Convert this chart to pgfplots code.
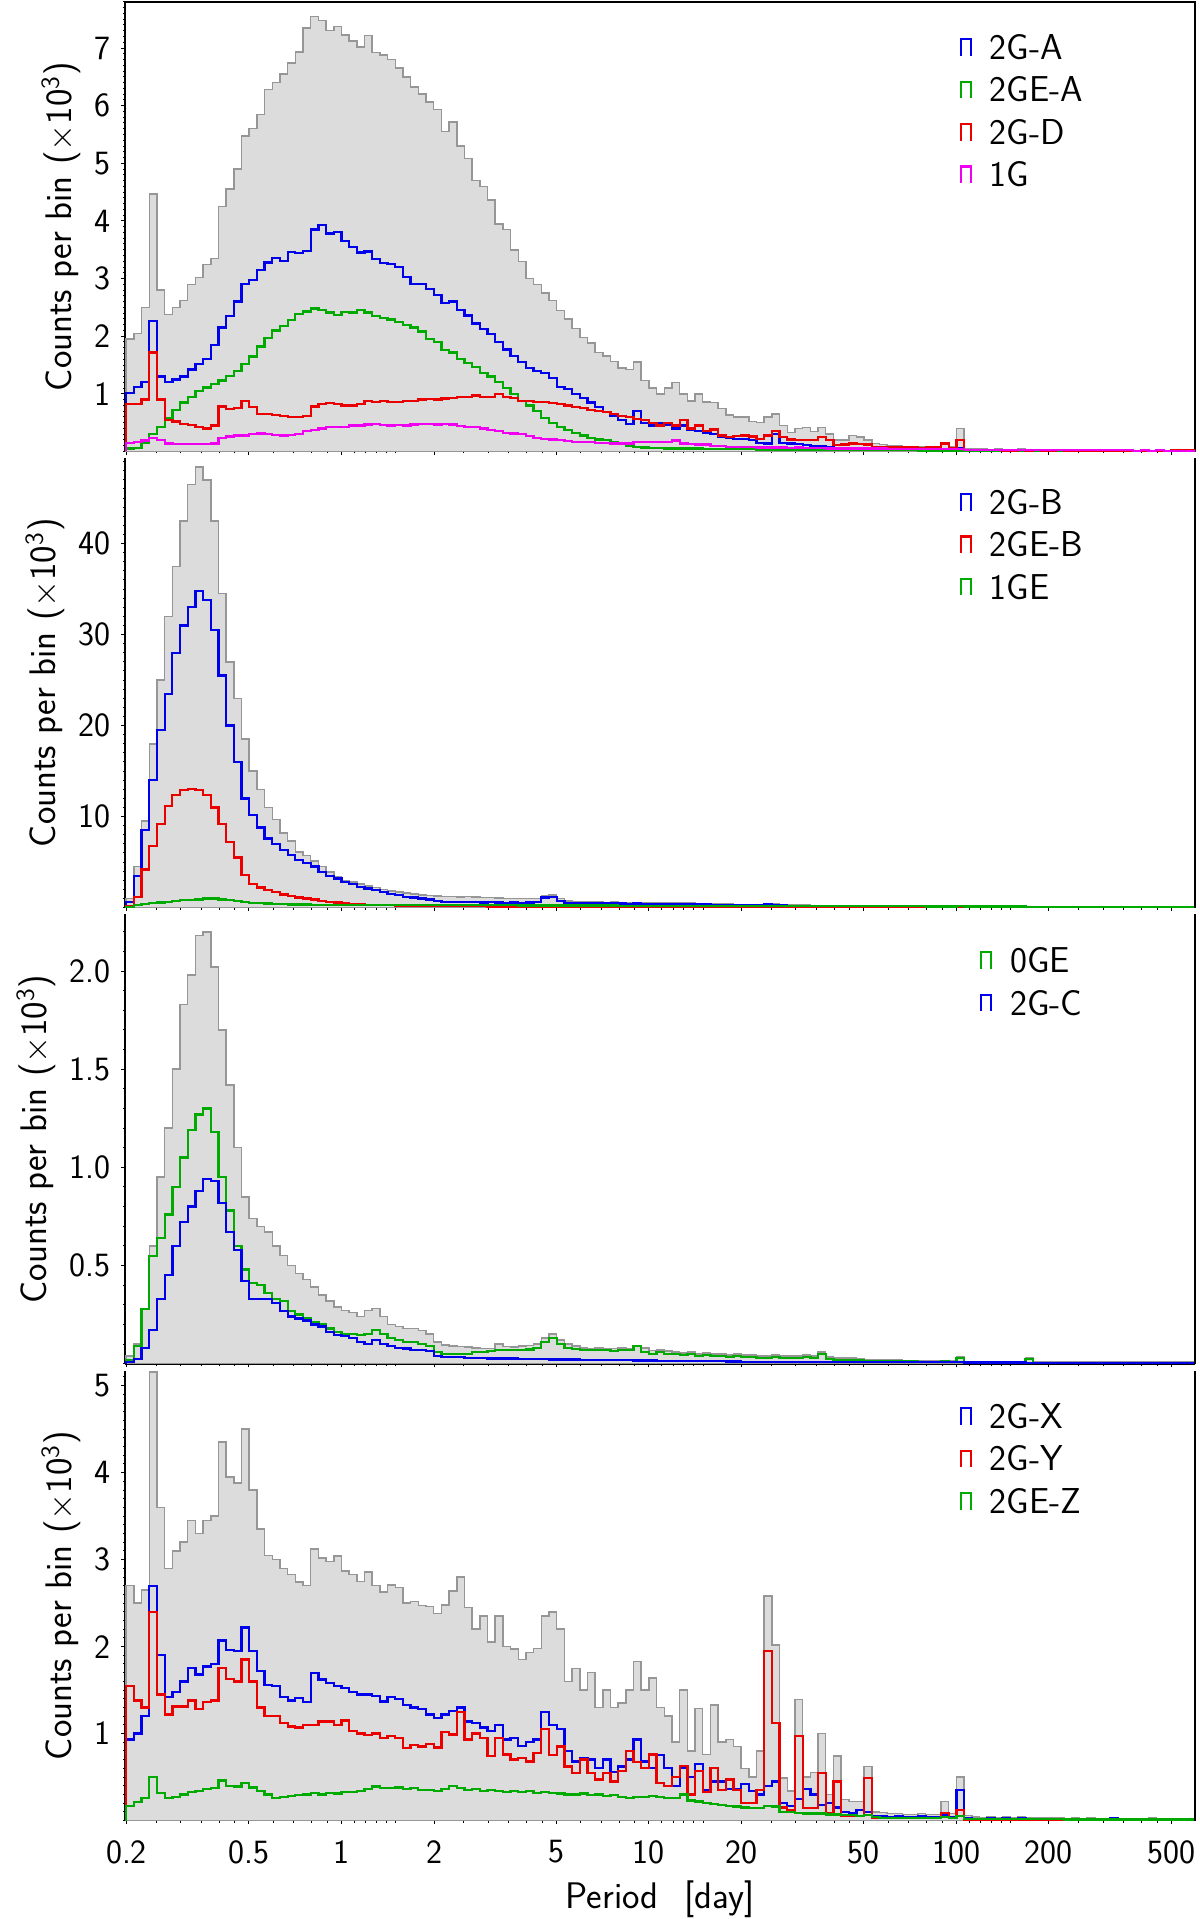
\documentclass[border=0pt]{standalone}
\usepackage{pgfplots}
\pgfplotsset{compat=1.18}
\usepackage{pgfplotstable}
\renewcommand{\familydefault}{\sfdefault}
\definecolor{cblue}{RGB}{0,0,235}
\definecolor{cgreen}{RGB}{0,170,0}
\definecolor{cred}{RGB}{235,0,0}
\definecolor{cmag}{RGB}{240,0,240}
\definecolor{gfill}{RGB}{220,220,220}
\definecolor{gline}{RGB}{150,150,150}

% Panel 1: x=log10(P) left bin edge; g=all, a=2G-A, b=2GE-A, c=2G-D, d=1G
\pgfplotstableread{
x g a b c d
-0.700 0 0 0 0 0
-0.700 1.95 1.02 0.05 0.83 0.15
-0.675 2.05 1.12 0.06 0.82 0.17
-0.650 2.50 1.20 0.15 0.90 0.19
-0.625 4.47 2.26 0.30 1.72 0.24
-0.600 2.80 1.30 0.43 0.90 0.20
-0.575 2.38 1.20 0.58 0.55 0.14
-0.550 2.50 1.25 0.72 0.52 0.13
-0.525 2.62 1.30 0.85 0.48 0.13
-0.500 2.90 1.42 0.95 0.46 0.13
-0.475 3.02 1.52 1.05 0.42 0.13
-0.450 3.24 1.60 1.11 0.40 0.13
-0.425 3.35 1.85 1.17 0.45 0.14
-0.400 4.25 2.15 1.23 0.78 0.24
-0.375 4.55 2.35 1.31 0.74 0.26
-0.350 4.90 2.60 1.40 0.75 0.28
-0.325 5.47 2.90 1.52 0.88 0.28
-0.300 5.60 2.97 1.65 0.77 0.30
-0.275 5.85 3.15 1.82 0.65 0.31
-0.250 6.28 3.28 1.97 0.65 0.30
-0.225 6.40 3.36 2.10 0.63 0.29
-0.200 6.55 3.30 2.18 0.62 0.28
-0.175 6.74 3.46 2.28 0.60 0.29
-0.150 6.93 3.44 2.38 0.60 0.30
-0.125 7.35 3.48 2.43 0.62 0.36
-0.100 7.55 3.85 2.48 0.78 0.37
-0.075 7.48 3.93 2.45 0.83 0.40
-0.050 7.30 3.78 2.41 0.84 0.42
-0.025 7.37 3.81 2.37 0.82 0.42
0.000 7.23 3.65 2.42 0.80 0.43
0.025 7.12 3.55 2.41 0.80 0.45
0.050 7.02 3.45 2.45 0.82 0.45
0.075 7.22 3.47 2.41 0.88 0.47
0.100 6.92 3.34 2.35 0.86 0.48
0.125 6.88 3.27 2.32 0.88 0.46
0.150 6.80 3.25 2.29 0.86 0.45
0.175 6.65 3.20 2.25 0.86 0.46
0.200 6.50 3.03 2.20 0.87 0.45
0.225 6.32 2.90 2.15 0.88 0.47
0.250 6.20 2.90 2.08 0.90 0.48
0.275 6.06 2.82 1.95 0.91 0.48
0.300 5.93 2.72 1.90 0.90 0.47
0.325 5.55 2.58 1.76 0.92 0.48
0.350 5.72 2.60 1.72 0.93 0.47
0.375 5.30 2.45 1.60 0.94 0.44
0.400 5.08 2.36 1.54 0.94 0.42
0.425 4.70 2.22 1.46 0.97 0.42
0.450 4.60 2.13 1.36 0.95 0.40
0.475 4.36 2.04 1.30 0.95 0.37
0.500 3.95 1.90 1.20 1.00 0.35
0.525 3.85 1.77 1.10 0.95 0.32
0.550 3.50 1.66 1.00 0.93 0.31
0.575 3.30 1.55 0.88 0.88 0.30
0.600 3.00 1.45 0.80 0.88 0.27
0.625 2.90 1.40 0.70 0.86 0.24
0.650 2.75 1.36 0.58 0.86 0.22
0.675 2.62 1.27 0.50 0.84 0.21
0.700 2.45 1.12 0.42 0.83 0.20
0.725 2.30 1.08 0.37 0.80 0.18
0.750 2.13 1.00 0.32 0.77 0.17
0.775 1.98 0.93 0.28 0.75 0.17
0.800 1.88 0.85 0.24 0.72 0.16
0.825 1.72 0.77 0.21 0.70 0.15
0.850 1.66 0.68 0.20 0.68 0.15
0.875 1.56 0.62 0.17 0.65 0.14
0.900 1.45 0.55 0.13 0.62 0.14
0.925 1.42 0.48 0.10 0.60 0.14
0.950 1.55 0.70 0.08 0.56 0.16
0.975 1.23 0.50 0.07 0.55 0.16
1.000 1.10 0.45 0.06 0.50 0.16
1.025 1.00 0.50 0.06 0.45 0.16
1.050 1.10 0.47 0.05 0.50 0.16
1.075 1.20 0.40 0.05 0.45 0.19
1.100 1.00 0.45 0.05 0.55 0.14
1.125 0.88 0.38 0.05 0.40 0.13
1.150 1.00 0.36 0.05 0.45 0.12
1.175 0.86 0.33 0.04 0.36 0.12
1.200 0.85 0.30 0.04 0.38 0.10
1.225 0.75 0.25 0.04 0.28 0.09
1.250 0.63 0.24 0.04 0.25 0.08
1.275 0.60 0.22 0.04 0.27 0.08
1.300 0.60 0.22 0.04 0.28 0.08
1.325 0.52 0.20 0.04 0.26 0.08
1.350 0.50 0.15 0.03 0.22 0.07
1.375 0.60 0.14 0.03 0.28 0.07
1.400 0.65 0.30 0.03 0.35 0.07
1.425 0.45 0.15 0.03 0.25 0.07
1.450 0.33 0.14 0.03 0.21 0.06
1.475 0.40 0.13 0.03 0.20 0.07
1.500 0.42 0.11 0.03 0.20 0.06
1.525 0.35 0.10 0.03 0.20 0.06
1.550 0.42 0.10 0.03 0.25 0.06
1.575 0.30 0.08 0.02 0.20 0.05
1.600 0.20 0.06 0.02 0.11 0.05
1.625 0.20 0.06 0.02 0.12 0.05
1.650 0.28 0.05 0.02 0.14 0.05
1.675 0.25 0.05 0.02 0.13 0.05
1.700 0.20 0.05 0.02 0.12 0.05
1.725 0.14 0.04 0.02 0.08 0.05
1.750 0.12 0.04 0.02 0.08 0.05
1.775 0.10 0.03 0.02 0.07 0.04
1.800 0.10 0.03 0.02 0.07 0.04
1.825 0.09 0.03 0.02 0.07 0.04
1.850 0.08 0.03 0.02 0.07 0.04
1.875 0.08 0.03 0.01 0.06 0.04
1.900 0.07 0.03 0.01 0.07 0.04
1.925 0.08 0.03 0.01 0.07 0.04
1.950 0.12 0.03 0.01 0.14 0.04
1.975 0.08 0.03 0.01 0.05 0.04
2.000 0.40 0.05 0.01 0.20 0.04
2.025 0.05 0.02 0.01 0.03 0.03
2.050 0.04 0.02 0.01 0.02 0.03
2.075 0.04 0.02 0.01 0.02 0.03
2.100 0.03 0.01 0.01 0.02 0.03
2.125 0.04 0.02 0.01 0.02 0.03
2.150 0.03 0.01 0.01 0.01 0.03
2.175 0.03 0.02 0.01 0.01 0.02
2.200 0.04 0.03 0.01 0.02 0.02
2.225 0.03 0.01 0.01 0.01 0.02
2.250 0.03 0.01 0.01 0.02 0.02
2.275 0.03 0.01 0.01 0.01 0.02
2.300 0.02 0.01 0.01 0.01 0.02
2.325 0.03 0.01 0.01 0.02 0.02
2.350 0.02 0.01 0.01 0.01 0.02
2.375 0.02 0.01 0.01 0.01 0.02
2.400 0.03 0.02 0.01 0.01 0.02
2.425 0.02 0.01 0.01 0.01 0.02
2.450 0.02 0.01 0.01 0.01 0.02
2.475 0.02 0.01 0.01 0.01 0.02
2.500 0.02 0.01 0.01 0.01 0.02
2.525 0.02 0.01 0.01 0.01 0.02
2.550 0.02 0.01 0.01 0.01 0.02
2.575 0.01 0.01 0.00 0.01 0.01
2.600 0.02 0.01 0.00 0.01 0.02
2.625 0.01 0.01 0.00 0.01 0.01
2.650 0.02 0.01 0.00 0.01 0.02
2.675 0.01 0.01 0.00 0.01 0.01
2.700 0.03 0.01 0.00 0.03 0.01
2.725 0.03 0.01 0.00 0.03 0.01
2.750 0.03 0.01 0.00 0.03 0.01
2.775 0.02 0.01 0.00 0.02 0.01
2.800 0.02 0.01 0.00 0.02 0.01
}\tA

% Panel 2: g=all, a=2G-B, b=2GE-B, c=1GE
\pgfplotstableread{
x g a b c
-0.700 0 0 0 0
-0.700 1.0 0.6 0.2 0.10
-0.675 4.5 3.5 1.2 0.25
-0.650 9.5 8.5 4.2 0.40
-0.625 18.0 14.0 6.8 0.50
-0.600 25.0 19.5 9.2 0.55
-0.575 32.0 23.5 11.2 0.60
-0.550 37.5 28.0 12.4 0.70
-0.525 42.5 31.0 12.9 0.80
-0.500 46.5 33.0 13.0 0.85
-0.475 48.4 34.8 12.9 0.90
-0.450 47.0 33.8 12.4 1.00
-0.425 42.5 30.5 11.0 1.00
-0.400 34.5 25.5 9.2 0.90
-0.375 27.0 20.0 7.2 0.80
-0.350 23.0 16.0 5.5 0.70
-0.325 18.5 12.0 3.6 0.60
-0.300 15.0 10.2 2.6 0.50
-0.275 13.0 8.8 2.2 0.50
-0.250 11.0 7.6 1.9 0.45
-0.225 9.7 7.0 1.7 0.40
-0.200 8.2 6.3 1.45 0.40
-0.175 7.3 5.8 1.3 0.35
-0.150 6.1 5.2 1.1 0.35
-0.125 5.7 4.9 1.0 0.35
-0.100 5.1 4.5 0.9 0.30
-0.075 4.5 3.9 0.75 0.30
-0.050 3.9 3.5 0.65 0.28
-0.025 3.4 3.2 0.55 0.28
0.000 3.0 2.8 0.45 0.27
0.025 2.8 2.6 0.40 0.27
0.050 2.6 2.3 0.35 0.26
0.075 2.4 2.1 0.30 0.26
0.100 2.2 1.9 0.30 0.25
0.125 2.0 1.7 0.25 0.25
0.150 1.8 1.5 0.25 0.25
0.175 1.7 1.4 0.20 0.25
0.200 1.6 1.2 0.20 0.25
0.225 1.5 1.1 0.20 0.25
0.250 1.4 1.0 0.20 0.25
0.275 1.35 0.9 0.15 0.25
0.300 1.3 0.7 0.15 0.25
0.325 1.2 0.65 0.15 0.25
0.350 1.2 0.6 0.15 0.25
0.375 1.15 0.6 0.15 0.25
0.400 1.2 0.6 0.15 0.25
0.425 1.15 0.6 0.15 0.25
0.450 1.1 0.55 0.15 0.25
0.475 1.1 0.6 0.12 0.25
0.500 1.05 0.55 0.12 0.25
0.525 1.0 0.5 0.12 0.25
0.550 1.0 0.55 0.12 0.25
0.575 1.0 0.5 0.12 0.24
0.600 1.0 0.55 0.12 0.24
0.625 1.0 0.6 0.12 0.24
0.650 1.3 1.1 0.12 0.24
0.675 1.4 1.2 0.12 0.24
0.700 1.0 0.7 0.12 0.24
0.725 0.7 0.5 0.10 0.23
0.750 0.65 0.5 0.10 0.23
0.775 0.6 0.45 0.10 0.23
0.800 0.6 0.5 0.10 0.22
0.825 0.6 0.45 0.10 0.22
0.850 0.55 0.45 0.10 0.22
0.875 0.6 0.5 0.10 0.22
0.900 0.55 0.45 0.10 0.21
0.925 0.55 0.4 0.10 0.21
0.950 0.5 0.45 0.10 0.21
0.975 0.55 0.4 0.08 0.20
1.000 0.5 0.4 0.08 0.20
1.025 0.5 0.4 0.08 0.20
1.050 0.55 0.4 0.08 0.20
1.075 0.5 0.38 0.08 0.20
1.100 0.5 0.37 0.08 0.19
1.125 0.48 0.36 0.08 0.19
1.150 0.45 0.35 0.07 0.19
1.175 0.45 0.34 0.07 0.18
1.200 0.42 0.32 0.07 0.18
1.225 0.4 0.3 0.07 0.18
1.250 0.38 0.29 0.06 0.17
1.275 0.36 0.28 0.06 0.17
1.300 0.35 0.27 0.06 0.17
1.325 0.33 0.25 0.06 0.16
1.350 0.32 0.24 0.05 0.16
1.375 0.4 0.33 0.05 0.16
1.400 0.38 0.3 0.05 0.16
1.425 0.3 0.22 0.05 0.15
1.450 0.28 0.2 0.05 0.15
1.475 0.3 0.2 0.05 0.15
1.500 0.3 0.2 0.04 0.15
1.525 0.25 0.17 0.04 0.15
1.550 0.22 0.15 0.04 0.15
1.575 0.2 0.12 0.04 0.15
1.600 0.2 0.1 0.04 0.15
1.625 0.18 0.08 0.04 0.15
1.650 0.18 0.07 0.04 0.15
1.675 0.16 0.06 0.03 0.15
1.700 0.15 0.05 0.03 0.14
1.725 0.15 0.05 0.03 0.14
1.750 0.14 0.05 0.03 0.14
1.775 0.15 0.04 0.03 0.14
1.800 0.14 0.05 0.03 0.14
1.825 0.14 0.04 0.03 0.14
1.850 0.14 0.05 0.03 0.14
1.875 0.14 0.04 0.03 0.14
1.900 0.13 0.04 0.03 0.13
1.925 0.14 0.04 0.02 0.13
1.950 0.14 0.05 0.02 0.13
1.975 0.13 0.04 0.02 0.13
2.000 0.18 0.08 0.02 0.14
2.025 0.13 0.04 0.02 0.13
2.050 0.13 0.04 0.02 0.13
2.075 0.13 0.04 0.02 0.13
2.100 0.13 0.04 0.02 0.13
2.125 0.13 0.04 0.02 0.13
2.150 0.12 0.04 0.02 0.12
2.175 0.12 0.04 0.02 0.12
2.200 0.16 0.08 0.02 0.13
2.225 0.08 0.04 0.02 0.05
2.250 0.06 0.04 0.02 0.02
2.275 0.06 0.05 0.02 0.01
2.300 0.07 0.06 0.02 0.01
2.325 0.05 0.04 0.02 0.01
2.350 0.05 0.04 0.01 0.01
2.375 0.05 0.03 0.01 0.01
2.400 0.06 0.05 0.01 0.01
2.425 0.05 0.03 0.01 0.01
2.450 0.05 0.04 0.01 0.01
2.475 0.06 0.05 0.01 0.01
2.500 0.07 0.06 0.01 0.01
2.525 0.04 0.03 0.01 0.01
2.550 0.05 0.04 0.01 0.01
2.575 0.04 0.03 0.01 0.01
2.600 0.06 0.05 0.01 0.01
2.625 0.06 0.05 0.01 0.01
2.650 0.04 0.03 0.01 0.01
2.675 0.04 0.03 0.01 0.01
2.700 0.04 0.03 0.01 0.01
2.725 0.05 0.04 0.01 0.01
2.750 0.03 0.02 0.01 0.01
2.775 0.03 0.02 0.01 0.01
2.800 0.03 0.02 0.01 0.01
}\tB

% Panel 3: g=all, a=0GE, b=2G-C
\pgfplotstableread{
x g a b
-0.700 0 0 0
-0.700 0.04 0.02 0.01
-0.675 0.10 0.09 0.025
-0.650 0.28 0.28 0.08
-0.625 0.60 0.55 0.17
-0.600 0.95 0.64 0.33
-0.575 1.20 0.76 0.45
-0.550 1.50 0.90 0.60
-0.525 1.83 1.05 0.72
-0.500 1.98 1.19 0.80
-0.475 2.18 1.27 0.88
-0.450 2.20 1.30 0.94
-0.425 2.02 1.18 0.93
-0.400 1.70 0.95 0.82
-0.375 1.42 0.78 0.67
-0.350 1.10 0.60 0.58
-0.325 0.85 0.48 0.42
-0.300 0.74 0.41 0.33
-0.275 0.70 0.40 0.33
-0.250 0.67 0.36 0.33
-0.225 0.60 0.33 0.31
-0.200 0.55 0.32 0.27
-0.175 0.50 0.27 0.24
-0.150 0.46 0.25 0.23
-0.125 0.43 0.23 0.22
-0.100 0.39 0.21 0.20
-0.075 0.35 0.20 0.19
-0.050 0.32 0.18 0.16
-0.025 0.29 0.16 0.145
0.000 0.27 0.15 0.14
0.025 0.26 0.15 0.13
0.050 0.24 0.145 0.11
0.075 0.27 0.15 0.10
0.100 0.28 0.17 0.12
0.125 0.24 0.15 0.10
0.150 0.20 0.13 0.09
0.175 0.19 0.12 0.08
0.200 0.18 0.11 0.077
0.225 0.18 0.11 0.07
0.250 0.17 0.10 0.068
0.275 0.15 0.09 0.065
0.300 0.11 0.06 0.04
0.325 0.095 0.05 0.035
0.350 0.09 0.05 0.034
0.375 0.088 0.05 0.033
0.400 0.085 0.05 0.03
0.425 0.08 0.06 0.03
0.450 0.078 0.06 0.028
0.475 0.078 0.065 0.027
0.500 0.10 0.068 0.026
0.525 0.088 0.068 0.026
0.550 0.085 0.068 0.026
0.575 0.09 0.07 0.025
0.600 0.092 0.072 0.025
0.625 0.10 0.08 0.024
0.650 0.13 0.11 0.023
0.675 0.15 0.13 0.022
0.700 0.12 0.10 0.022
0.725 0.10 0.08 0.021
0.750 0.09 0.075 0.021
0.775 0.08 0.07 0.02
0.800 0.078 0.07 0.02
0.825 0.08 0.068 0.02
0.850 0.075 0.068 0.019
0.875 0.078 0.065 0.019
0.900 0.08 0.068 0.018
0.925 0.075 0.07 0.018
0.950 0.09 0.09 0.017
0.975 0.08 0.06 0.017
1.000 0.068 0.05 0.016
1.025 0.07 0.06 0.015
1.050 0.065 0.05 0.015
1.075 0.06 0.05 0.014
1.100 0.055 0.045 0.014
1.125 0.06 0.05 0.013
1.150 0.05 0.04 0.013
1.175 0.055 0.045 0.012
1.200 0.05 0.04 0.012
1.225 0.05 0.04 0.012
1.250 0.045 0.035 0.011
1.275 0.05 0.04 0.011
1.300 0.045 0.035 0.010
1.325 0.045 0.035 0.010
1.350 0.04 0.03 0.010
1.375 0.04 0.03 0.010
1.400 0.045 0.035 0.010
1.425 0.04 0.03 0.010
1.450 0.04 0.03 0.010
1.475 0.04 0.03 0.010
1.500 0.045 0.035 0.010
1.525 0.04 0.03 0.010
1.550 0.06 0.05 0.010
1.575 0.035 0.025 0.008
1.600 0.03 0.02 0.008
1.625 0.03 0.02 0.008
1.650 0.03 0.02 0.008
1.675 0.025 0.018 0.008
1.700 0.022 0.015 0.008
1.725 0.02 0.015 0.008
1.750 0.02 0.015 0.008
1.775 0.02 0.015 0.008
1.800 0.018 0.012 0.008
1.825 0.016 0.012 0.007
1.850 0.016 0.012 0.007
1.875 0.015 0.010 0.007
1.900 0.014 0.010 0.007
1.925 0.014 0.010 0.007
1.950 0.016 0.012 0.007
1.975 0.013 0.010 0.007
2.000 0.035 0.030 0.008
2.025 0.012 0.008 0.006
2.050 0.012 0.008 0.006
2.075 0.012 0.008 0.006
2.100 0.012 0.008 0.006
2.125 0.012 0.008 0.006
2.150 0.012 0.008 0.006
2.175 0.012 0.008 0.006
2.200 0.012 0.008 0.006
2.225 0.030 0.025 0.005
2.250 0.008 0.004 0.004
2.275 0.008 0.004 0.004
2.300 0.008 0.004 0.004
2.325 0.008 0.004 0.004
2.350 0.008 0.004 0.004
2.375 0.008 0.004 0.004
2.400 0.008 0.004 0.004
2.425 0.008 0.004 0.004
2.450 0.008 0.004 0.004
2.475 0.008 0.004 0.004
2.500 0.008 0.004 0.004
2.525 0.008 0.004 0.004
2.550 0.008 0.004 0.004
2.575 0.008 0.004 0.004
2.600 0.008 0.004 0.004
2.625 0.008 0.004 0.004
2.650 0.008 0.004 0.004
2.675 0.008 0.004 0.004
2.700 0.008 0.004 0.004
2.725 0.008 0.004 0.004
2.750 0.008 0.004 0.004
2.775 0.008 0.004 0.004
2.800 0.008 0.004 0.004
}\tC

% Panel 4: g=all, a=2G-X, b=2G-Y, c=2GE-Z
\pgfplotstableread{
x g a b c
-0.700 0 0 0 0
-0.700 2.70 0.93 1.55 0.17
-0.675 2.50 1.00 1.38 0.21
-0.650 2.65 1.20 1.30 0.26
-0.625 5.16 2.70 2.40 0.50
-0.600 3.60 1.90 1.45 0.32
-0.575 2.90 1.42 1.22 0.26
-0.550 3.10 1.48 1.31 0.27
-0.525 3.20 1.60 1.31 0.30
-0.500 3.45 1.75 1.38 0.33
-0.475 3.30 1.68 1.28 0.34
-0.450 3.45 1.77 1.36 0.36
-0.425 3.50 1.80 1.38 0.37
-0.400 4.35 2.07 1.75 0.46
-0.375 3.95 1.96 1.63 0.40
-0.350 3.88 1.95 1.60 0.39
-0.325 4.50 2.22 1.85 0.43
-0.300 3.80 1.95 1.60 0.38
-0.275 3.35 1.72 1.30 0.34
-0.250 3.05 1.56 1.20 0.30
-0.225 3.00 1.55 1.20 0.26
-0.200 2.90 1.42 1.12 0.27
-0.175 2.83 1.38 1.08 0.28
-0.150 2.74 1.41 1.07 0.29
-0.125 2.70 1.36 1.10 0.30
-0.100 3.12 1.70 1.10 0.32
-0.075 3.02 1.62 1.14 0.30
-0.050 2.98 1.58 1.14 0.32
-0.025 3.04 1.55 1.10 0.31
0.000 2.87 1.52 1.15 0.33
0.025 2.83 1.48 1.03 0.33
0.050 2.75 1.45 1.00 0.34
0.075 2.86 1.45 0.98 0.36
0.100 2.70 1.43 1.00 0.39
0.125 2.63 1.37 0.95 0.37
0.150 2.71 1.42 0.97 0.37
0.175 2.68 1.40 0.95 0.38
0.200 2.50 1.33 0.83 0.36
0.225 2.52 1.30 0.87 0.37
0.250 2.47 1.28 0.85 0.35
0.275 2.46 1.22 0.88 0.35
0.300 2.38 1.18 0.84 0.34
0.325 2.48 1.22 1.02 0.36
0.350 2.64 1.26 0.99 0.40
0.375 2.80 1.30 1.25 0.37
0.400 2.45 1.14 0.93 0.35
0.425 2.20 1.12 1.00 0.36
0.450 2.35 1.07 0.95 0.34
0.475 2.05 1.03 0.74 0.35
0.500 2.35 1.10 0.95 0.34
0.525 2.00 0.93 0.76 0.33
0.550 1.97 0.95 0.70 0.34
0.575 1.85 0.86 0.72 0.33
0.600 1.93 0.90 0.68 0.34
0.625 1.98 0.93 0.78 0.32
0.650 2.35 1.25 1.05 0.33
0.675 2.40 1.10 0.75 0.32
0.700 2.20 1.05 0.85 0.31
0.725 1.60 0.80 0.62 0.30
0.750 1.75 0.68 0.55 0.30
0.775 1.50 0.72 0.70 0.31
0.800 1.70 0.70 0.55 0.29
0.825 1.30 0.60 0.47 0.30
0.850 1.50 0.70 0.55 0.28
0.875 1.30 0.56 0.45 0.29
0.900 1.35 0.62 0.57 0.27
0.925 1.50 0.70 0.80 0.26
0.950 1.83 0.93 0.67 0.27
0.975 1.50 0.68 0.60 0.27
1.000 1.64 0.60 0.76 0.28
1.025 1.30 0.75 0.43 0.27
1.050 1.20 0.60 0.40 0.26
1.075 0.90 0.40 0.50 0.26
1.100 1.50 0.60 0.63 0.30
1.125 0.80 0.50 0.30 0.23
1.150 1.29 0.65 0.57 0.22
1.175 0.76 0.35 0.33 0.20
1.200 1.33 0.45 0.60 0.19
1.225 0.90 0.45 0.35 0.18
1.250 0.93 0.36 0.47 0.17
1.275 0.85 0.36 0.35 0.16
1.300 0.60 0.42 0.20 0.15
1.325 0.50 0.34 0.20 0.14
1.350 0.80 0.30 0.35 0.14
1.375 2.58 0.40 1.95 0.17
1.400 2.02 0.45 1.12 0.16
1.425 0.49 0.20 0.15 0.10
1.450 0.34 0.17 0.12 0.10
1.475 1.39 0.25 0.97 0.09
1.500 0.50 0.36 0.14 0.08
1.525 0.55 0.30 0.14 0.08
1.550 1.00 0.18 0.55 0.08
1.575 0.30 0.20 0.09 0.07
1.600 0.74 0.15 0.45 0.07
1.625 0.24 0.10 0.05 0.06
1.650 0.22 0.08 0.05 0.06
1.675 0.22 0.12 0.05 0.05
1.700 0.62 0.10 0.49 0.06
1.725 0.10 0.05 0.03 0.04
1.750 0.09 0.05 0.03 0.03
1.775 0.08 0.04 0.03 0.03
1.800 0.08 0.05 0.03 0.03
1.825 0.07 0.04 0.03 0.03
1.850 0.07 0.04 0.03 0.03
1.875 0.08 0.05 0.03 0.03
1.900 0.07 0.04 0.03 0.03
1.925 0.07 0.04 0.03 0.03
1.950 0.22 0.06 0.09 0.04
1.975 0.08 0.04 0.03 0.03
2.000 0.50 0.35 0.12 0.05
2.025 0.06 0.03 0.01 0.02
2.050 0.04 0.02 0.01 0.02
2.075 0.03 0.02 0.01 0.02
2.100 0.04 0.03 0.01 0.02
2.125 0.03 0.02 0.01 0.02
2.150 0.04 0.03 0.01 0.02
2.175 0.03 0.02 0.01 0.02
2.200 0.04 0.03 0.01 0.02
2.225 0.03 0.02 0.01 0.02
2.250 0.03 0.02 0.01 0.02
2.275 0.03 0.02 0.01 0.02
2.300 0.03 0.02 0.01 0.02
2.325 0.03 0.02 0.01 0.02
2.350 0.02 0.01 0.01 0.01
2.375 0.03 0.02 0.01 0.01
2.400 0.02 0.01 0.01 0.01
2.425 0.03 0.02 0.01 0.01
2.450 0.02 0.01 0.01 0.01
2.475 0.02 0.01 0.01 0.01
2.500 0.03 0.03 0.01 0.01
2.525 0.02 0.02 0.01 0.01
2.550 0.02 0.02 0.01 0.01
2.575 0.02 0.01 0.01 0.01
2.600 0.02 0.01 0.01 0.01
2.625 0.03 0.02 0.01 0.01
2.650 0.02 0.01 0.01 0.01
2.675 0.02 0.01 0.01 0.01
2.700 0.02 0.01 0.01 0.01
2.725 0.02 0.01 0.01 0.01
2.750 0.02 0.01 0.01 0.01
2.775 0.02 0.01 0.01 0.01
2.800 0.02 0.01 0.01 0.01
}\tD

\pgfplotsset{
  panel/.style={
    scale only axis, width=535pt, height=224.8pt,
    xmin=-0.704, xmax=2.776, ymin=0,
    xtick={-0.69897,-0.30103,0,0.30103,0.69897,1,1.30103,1.69897,2,2.30103,2.69897},
    minor xtick={-0.60206,-0.52288,-0.45593,-0.39794,-0.34679,-0.22185,-0.15490,-0.09691,-0.04576,
      0.04139,0.07918,0.11394,0.14613,0.17609,0.39794,0.47712,0.54407,0.60206,0.65321,0.77815,0.84510,0.90309,0.95424,
      1.04139,1.07918,1.11394,1.14613,1.17609,1.39794,1.47712,1.54407,1.60206,1.65321,1.77815,1.84510,1.90309,1.95424,
      2.04139,2.07918,2.11394,2.14613,2.17609,2.39794,2.47712,2.54407,2.60206,2.65321},
    tick align=outside,
    major tick length=1.8pt, minor tick length=1pt,
    every tick/.append style={black, line width=0.5pt},
    axis line style={line width=0.85pt, black},
    tick label style={font=\fontsize{17}{17}\selectfont},
    xticklabel style={yshift=-4.5pt},
    yticklabel style={xshift=-2pt},
    label style={font=\fontsize{18.5}{18.5}\selectfont},
    xlabel style={yshift=-1.5pt},
    ylabel={Counts per bin ($\times$10\textsuperscript{3})},
    legend cell align=left,
    legend image code/.code={\draw[##1, line width=1.1pt, const plot=false] (0pt,-3.7pt) -- (0pt,4.6pt) -- (5pt,4.6pt) -- (5pt,-3.7pt);},
    legend style={draw=none, fill=none, inner sep=0pt, outer sep=0pt, anchor=north west, row sep=5.2pt,
      font=\fontsize{18}{18}\selectfont, nodes={inner sep=1pt},
      /tikz/every odd column/.append style={column sep=8pt}},
  },
  lower/.style={
    axis x line*=bottom, axis y line*=left,
    after end axis/.code={\draw[line width=0.85pt, black] (rel axis cs:1,0) -- (rel axis cs:1,1);},
  },
  hist/.style={const plot, line width=1.15pt},
  allg/.style={const plot, fill=gfill, draw=gline, line width=0.75pt, forget plot},
}

\begin{document}
\begin{tikzpicture}
\path[use as bounding box] (0,0) rectangle (600pt,959.5pt);

% ---------- Panel 1 ----------
\begin{axis}[panel, at={(62.5pt,733.75pt)}, anchor=south west,
  ymax=7.8, ytick={1,2,3,4,5,6,7}, yticklabels={1,2,3,4,5,6,7},
  minor ytick={0,0.1,...,7.8}, xticklabels={},
  xtick pos=bottom, ytick pos=left,
  legend style={at={(0.780,0.932)}}]
\addplot[allg] table[x=x,y=g]{\tA} \closedcycle;
\addplot[hist, color=cblue] table[x=x,y=a]{\tA}; \addlegendentry{2G-A}
\addplot[hist, color=cgreen] table[x=x,y=b]{\tA}; \addlegendentry{2GE-A}
\addplot[hist, color=cred] table[x=x,y=c]{\tA}; \addlegendentry{2G-D}
\addplot[hist, color=cmag] table[x=x,y=d]{\tA}; \addlegendentry{1G}
\end{axis}

% ---------- Panel 2 ----------
\begin{axis}[panel, lower, at={(62.5pt,505.7pt)}, anchor=south west,
  ymax=49.4, ytick={10,20,30,40}, yticklabels={10,20,30,40},
  minor ytick={0,1,...,49}, xticklabels={},
  legend style={at={(0.780,0.935)}}]
\addplot[allg] table[x=x,y=g]{\tB} \closedcycle;
\addplot[hist, color=cblue] table[x=x,y=a]{\tB}; \addlegendentry{2G-B}
\addplot[hist, color=cred] table[x=x,y=b]{\tB}; \addlegendentry{2GE-B}
\addplot[hist, color=cgreen] table[x=x,y=c]{\tB}; \addlegendentry{1GE}
\end{axis}

% ---------- Panel 3 ----------
\begin{axis}[panel, lower, at={(62.5pt,277.65pt)}, anchor=south west,
  ymax=2.29, ytick={0.5,1,1.5,2}, yticklabels={0.5,1.0,1.5,2.0},
  minor ytick={0,0.1,...,2.29}, xticklabels={},
  legend style={at={(0.799,0.930)}}]
\addplot[allg] table[x=x,y=g]{\tC} \closedcycle;
\addplot[hist, color=cgreen] table[x=x,y=a]{\tC}; \addlegendentry{0GE}
\addplot[hist, color=cblue] table[x=x,y=b]{\tC}; \addlegendentry{2G-C}
\end{axis}

% ---------- Panel 4 ----------
\begin{axis}[panel, lower, at={(62.5pt,49.25pt)}, anchor=south west,
  ymax=5.17, ytick={1,2,3,4,5}, yticklabels={1,2,3,4,5},
  minor ytick={0,0.1,...,5.1},
  xticklabels={0.2,0.5,1,2,5,10,20,50,100,200,500},
  xlabel={Period\hspace{0.7em}[day]},
  legend style={at={(0.780,0.932)}}]
\addplot[allg] table[x=x,y=g]{\tD} \closedcycle;
\addplot[hist, color=cblue] table[x=x,y=a]{\tD}; \addlegendentry{2G-X}
\addplot[hist, color=cred] table[x=x,y=b]{\tD}; \addlegendentry{2G-Y}
\addplot[hist, color=cgreen] table[x=x,y=c]{\tD}; \addlegendentry{2GE-Z}
\end{axis}
\end{tikzpicture}
\end{document}
